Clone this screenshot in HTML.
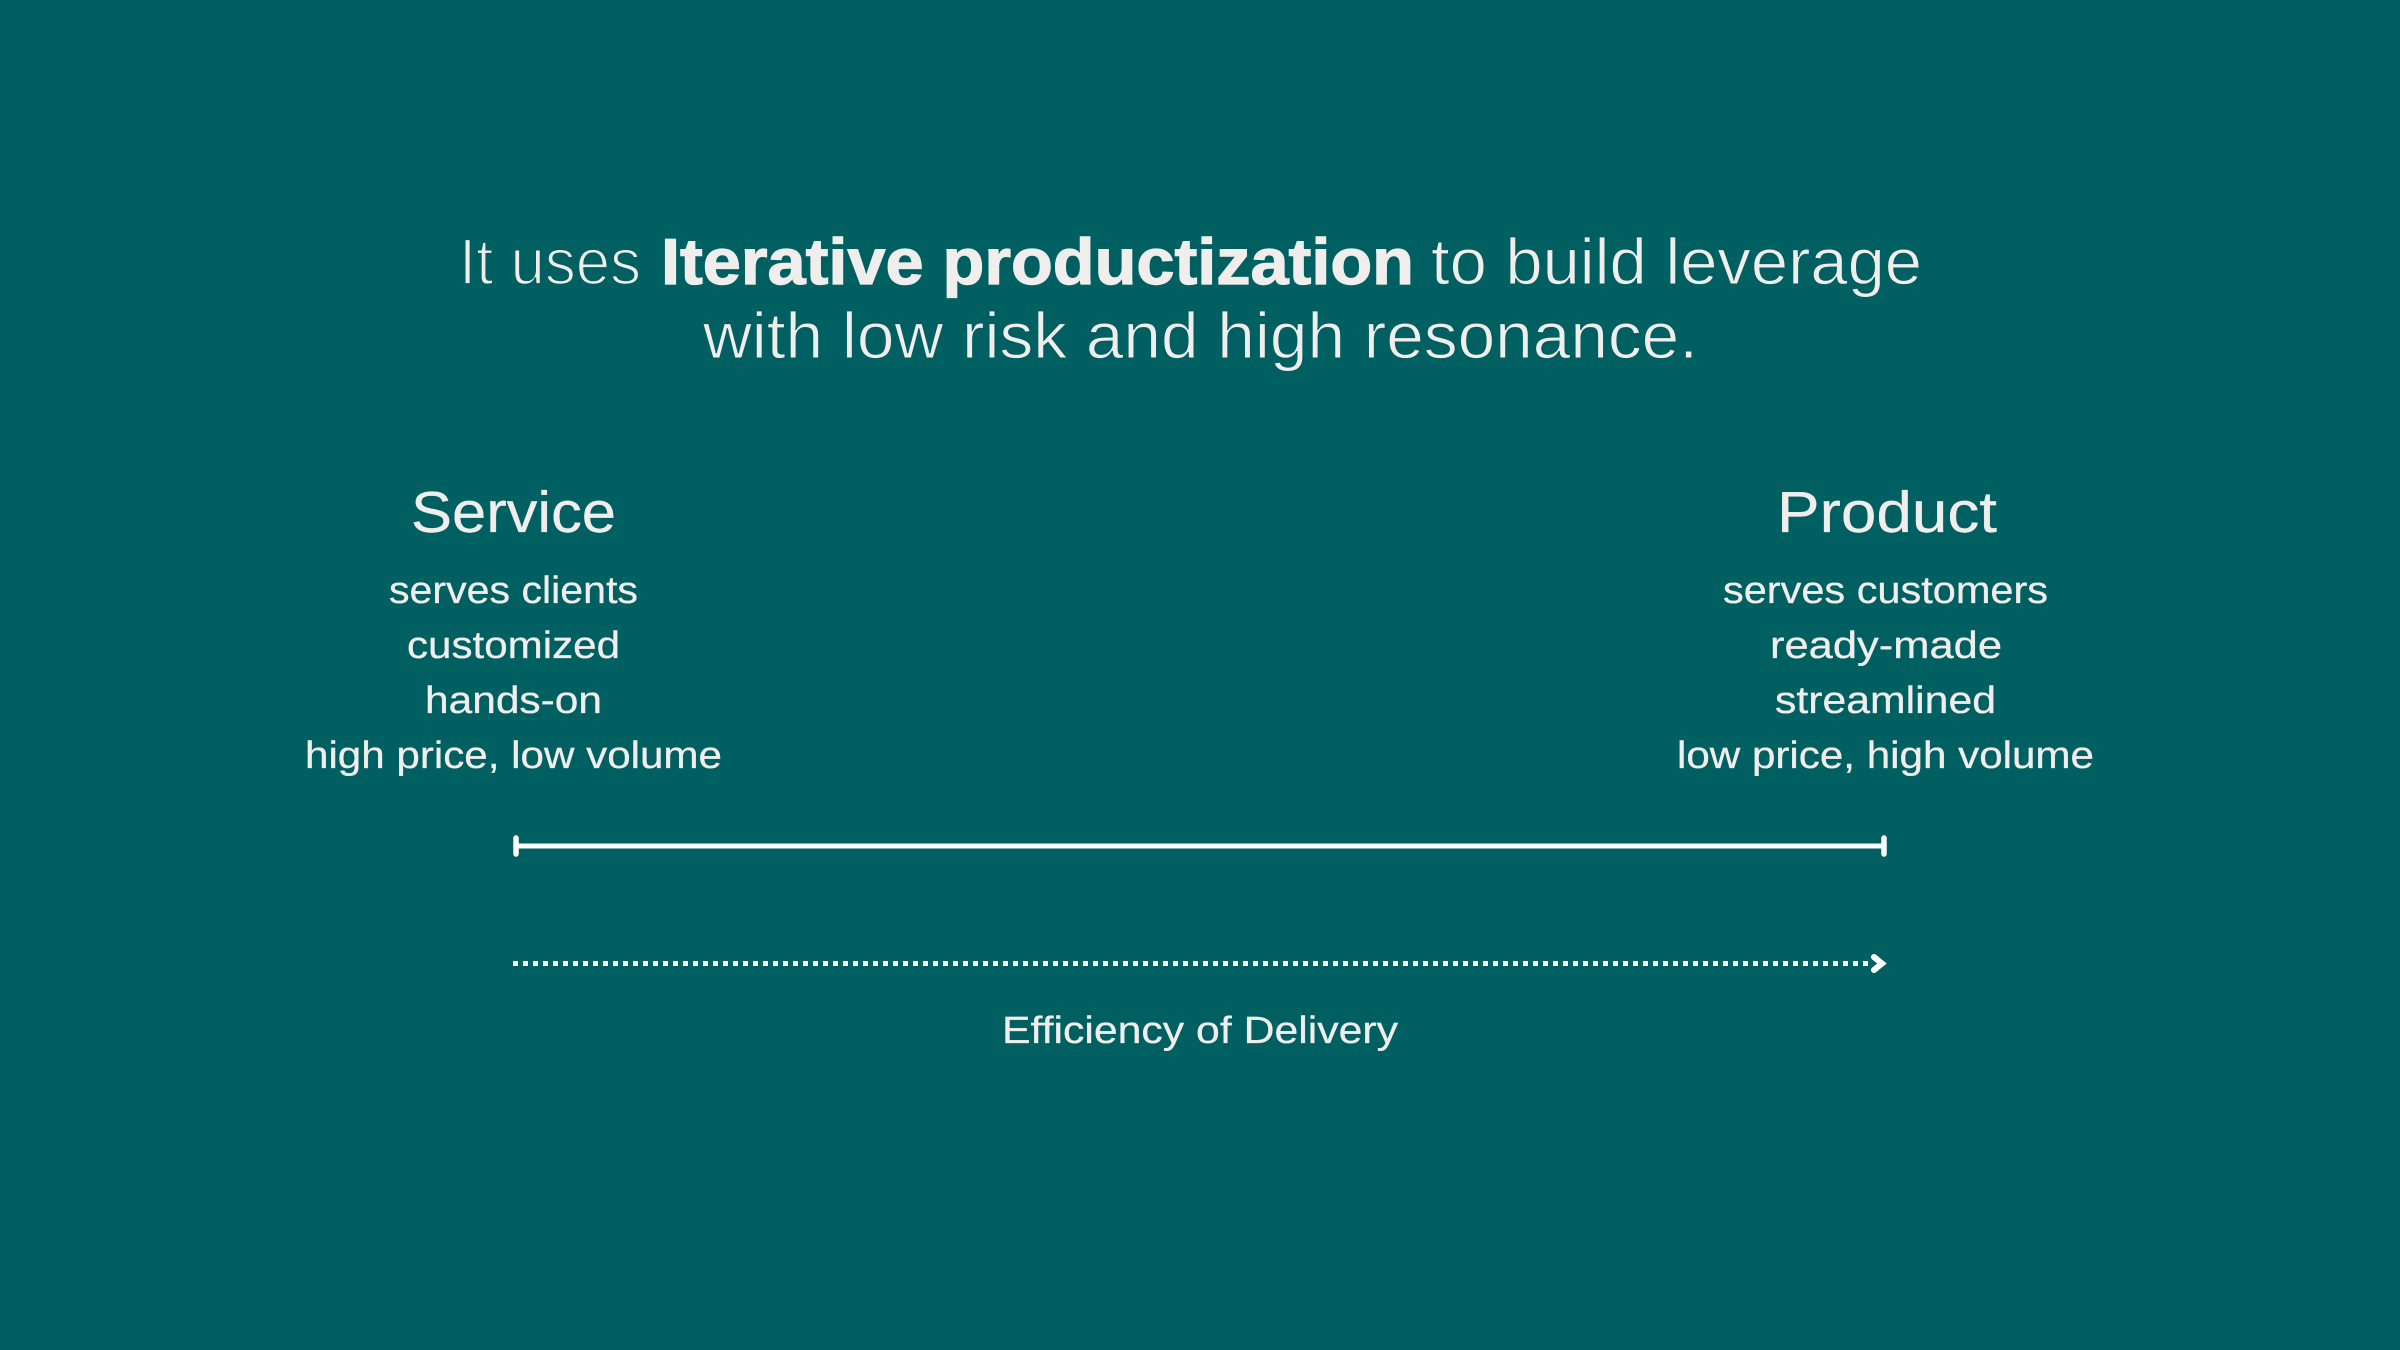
<!DOCTYPE html>
<html>
<head>
<meta charset="utf-8">
<style>
html,body{margin:0;padding:0;width:2400px;height:1350px;background:#005f60;overflow:hidden}
svg{display:block}
text{font-family:"Liberation Sans",sans-serif;fill:#f0eeec;text-rendering:geometricPrecision}
.t{font-size:65px}
.h{font-size:58px;stroke:#f0eeec;stroke-width:.3px}
.b{font-size:38px;stroke:#f0eeec;stroke-width:.3px}
.thin{stroke:#005f60;stroke-width:1.8px}
.thin2{stroke:#005f60;stroke-width:1px}
.bold{stroke:#f0eeec;stroke-width:1.2px}
</style>
</head>
<body>
<svg width="2400" height="1350" viewBox="0 0 2400 1350" xmlns="http://www.w3.org/2000/svg">
<rect width="2400" height="1350" fill="#005f60"/>
<text class="t thin" x="459" y="284" textLength="182" lengthAdjust="spacingAndGlyphs">It uses</text>
<text class="t bold" x="661" y="284" textLength="753" lengthAdjust="spacingAndGlyphs" font-weight="700">Iterative productization</text>
<text class="t thin2" x="1431" y="284" textLength="491" lengthAdjust="spacingAndGlyphs">to build leverage</text>
<text class="t thin2" x="703" y="358" textLength="995" lengthAdjust="spacingAndGlyphs">with low risk and high resonance.</text>

<text class="h" x="411" y="532" textLength="205" lengthAdjust="spacingAndGlyphs">Service</text>
<text class="b" x="389" y="603" textLength="249" lengthAdjust="spacingAndGlyphs">serves clients</text>
<text class="b" x="407" y="658" textLength="213" lengthAdjust="spacingAndGlyphs">customized</text>
<text class="b" x="425" y="713" textLength="177" lengthAdjust="spacingAndGlyphs">hands-on</text>
<text class="b" x="305" y="768" textLength="417" lengthAdjust="spacingAndGlyphs">high price, low volume</text>

<text class="h" x="1777" y="532" textLength="220" lengthAdjust="spacingAndGlyphs">Product</text>
<text class="b" x="1723" y="603" textLength="325" lengthAdjust="spacingAndGlyphs">serves customers</text>
<text class="b" x="1770" y="658" textLength="232" lengthAdjust="spacingAndGlyphs">ready-made</text>
<text class="b" x="1775" y="713" textLength="221" lengthAdjust="spacingAndGlyphs">streamlined</text>
<text class="b" x="1677" y="768" textLength="417" lengthAdjust="spacingAndGlyphs">low price, high volume</text>

<line x1="516" y1="846" x2="1884" y2="846" stroke="#fff" stroke-width="5"/>
<line x1="516" y1="838" x2="516" y2="854" stroke="#fff" stroke-width="5.5" stroke-linecap="round"/>
<line x1="1884" y1="838" x2="1884" y2="854" stroke="#fff" stroke-width="5.5" stroke-linecap="round"/>

<line x1="513" y1="963.5" x2="1873" y2="963.5" stroke="#fff" stroke-width="5" stroke-dasharray="5 5"/>
<polyline points="1874,957 1882,963.5 1874,970" fill="none" stroke="#fff" stroke-width="6" stroke-linecap="round" stroke-linejoin="miter"/>

<text class="b" x="1002" y="1043" textLength="396" lengthAdjust="spacingAndGlyphs">Efficiency of Delivery</text>
</svg>
</body>
</html>
